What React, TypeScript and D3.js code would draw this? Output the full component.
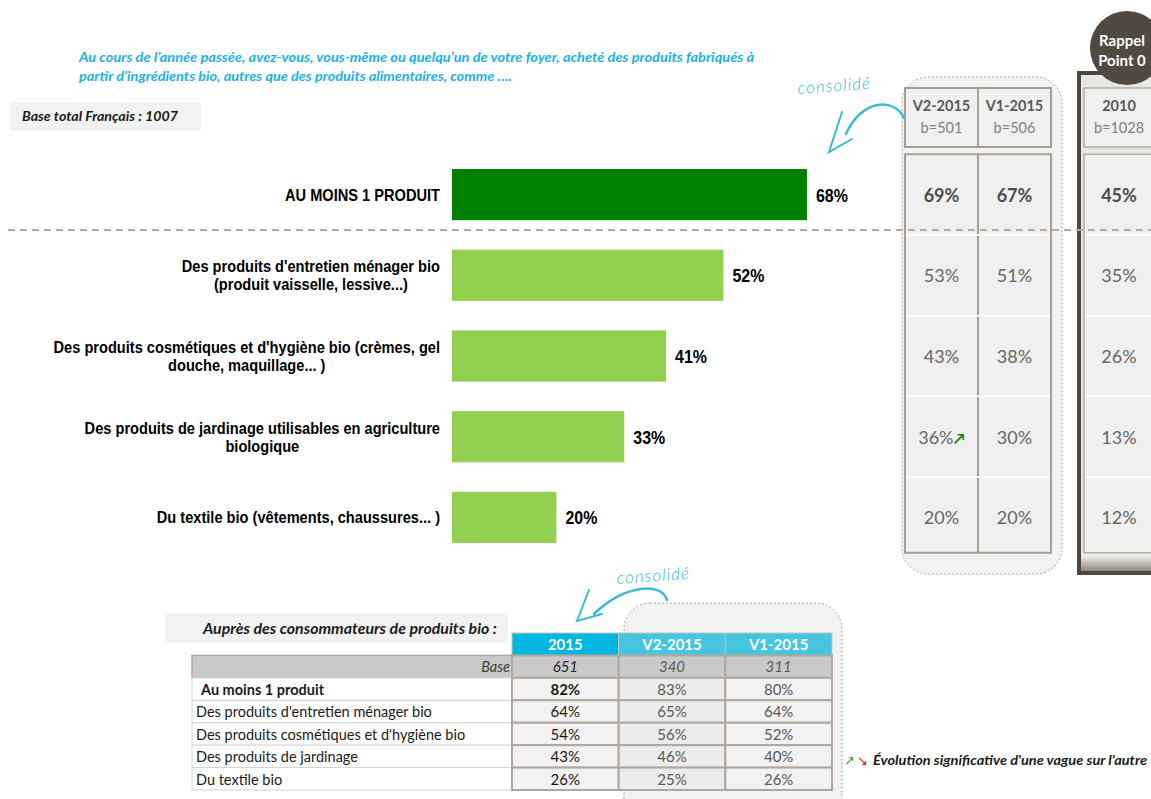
import { useEffect, useRef } from 'react';
import * as d3 from 'd3';

// Question / base
const questionLines = [
  "Au cours de l’année passée, avez-vous,  vous-même ou quelqu’un de votre foyer, acheté des produits fabriqués à",
  "partir d’ingrédients bio, autres que des produits alimentaires, comme ….",
];
const baseLabel = 'Base total Français : 1007';

// Main bar chart
const categoryKeys = ['total', 'entretien', 'cosmetique', 'jardinage', 'textile'];
const categoryLines = [
  ['AU MOINS 1 PRODUIT'],
  ["Des produits d'entretien ménager bio", '(produit vaisselle, lessive...)'],
  ["Des produits cosmétiques et d'hygiène bio (crèmes, gel", 'douche, maquillage... )'],
  ['Des produits de jardinage utilisables en agriculture', 'biologique'],
  ['Du textile bio (vêtements, chaussures... )'],
];
const values2015 = [68, 52, 41, 33, 20];

// Waves (right panel)
const waveKeys = ['V2', 'V1'];
const waveHeaders = ['V2-2015', 'V1-2015'];
const waveBases = ['b=501', 'b=506'];
const valuesV2 = [69, 53, 43, 36, 20];
const valuesV1 = [67, 51, 38, 30, 20];
const significantV2 = [false, false, false, true, false];
const rappelHeader = '2010';
const rappelBase = 'b=1028';
const values2010 = [45, 35, 26, 13, 12];

// Bottom table
const tableTitle = 'Auprès des consommateurs de produits bio :';
const tableColumns = ['2015', 'V2-2015', 'V1-2015'];
const tableBases = ['651', '340', '311'];
const tableLabels = [
  'Au moins 1 produit',
  "Des produits d'entretien ménager bio",
  "Des produits cosmétiques et d'hygiène bio",
  'Des produits de jardinage',
  'Du textile bio',
];
const table2015 = [82, 64, 54, 43, 26];
const tableV2 = [83, 65, 56, 46, 25];
const tableV1 = [80, 64, 52, 40, 26];

const legendText = "Évolution significative d'une vague sur l'autre";

const W = 1151;
const H = 799;
const calibri = "Lato, 'Open Sans', sans-serif";
const narrow = "'Liberation Sans', Arial, sans-serif";
const hand = "Lato, 'DejaVu Sans', sans-serif";
const squeeze = 0.84; // horizontal condensing to mimic Arial Narrow
const labelSqueeze = 0.885;

export default function App() {
  const svgRef = useRef<SVGSVGElement>(null);

  useEffect(() => {
    const svg = d3.select(svgRef.current);
    svg.selectAll('*').remove();
    svg.attr('width', W).attr('height', H);

    const defs = svg.append('defs');
    const grad = defs
      .append('linearGradient')
      .attr('id', 'rappelFoot')
      .attr('x1', 0)
      .attr('y1', 0)
      .attr('x2', 0)
      .attr('y2', 1);
    grad.append('stop').attr('offset', '0%').attr('stop-color', '#f4f3f1');
    grad.append('stop').attr('offset', '100%').attr('stop-color', '#8f877d');

    // Question
    questionLines.forEach((line, i) => {
      svg
        .append('text')
        .attr('x', 79)
        .attr('y', 62 + i * 19)
        .attr('fill', '#1cb1e4')
        .attr('textLength', i === 0 ? 675 : 433)
        .attr('lengthAdjust', 'spacingAndGlyphs')
        .style('font-family', calibri)
        .style('font-style', 'italic')
        .style('font-weight', 'bold')
        .style('font-size', '13px')
        .text(line);
    });

    svg.append('rect').attr('x', 10).attr('y', 102).attr('width', 191).attr('height', 29).attr('fill', '#f2f2f2');
    svg
      .append('text')
      .attr('x', 22)
      .attr('y', 121)
      .attr('textLength', 156)
      .attr('lengthAdjust', 'spacingAndGlyphs')
      .style('font-family', calibri)
      .style('font-style', 'italic')
      .style('font-weight', 'bold')
      .style('font-size', '12.5px')
      .attr('fill', '#1a1a1a')
      .text(baseLabel);

    // Scales
    const x = d3.scaleLinear().domain([0, 100]).range([452, 974]);
    const y = d3
      .scaleBand()
      .domain(categoryKeys)
      .range([154.25, 557.75])
      .paddingInner(0.366)
      .paddingOuter(0.183);
    const bw = y.bandwidth();
    const cy = (i: number) => (y(categoryKeys[i]) as number) + bw / 2;
    const step = y.step();

    // Bars
    svg
      .append('g')
      .selectAll('rect')
      .data(values2015)
      .enter()
      .append('rect')
      .attr('x', x(0))
      .attr('y', (d, i) => y(categoryKeys[i]) as number)
      .attr('width', (d) => x(d) - x(0))
      .attr('height', bw)
      .attr('fill', (d, i) => (i === 0 ? '#008000' : '#92d050'));

    // Value labels (condensed)
    values2015.forEach((d, i) => {
      svg
        .append('g')
        .attr('transform', `translate(${x(d) + 9},${cy(i) + 7}) scale(${squeeze},1)`)
        .append('text')
        .style('font-family', narrow)
        .style('font-weight', 'bold')
        .style('font-size', '19px')
        .attr('fill', '#000')
        .text(`${d}%`);
    });

    // Category labels: centred block, right edge at 440 (condensed)
    categoryLines.forEach((lines, i) => {
      const g = svg.append('g').attr('transform', `translate(440,0) scale(${labelSqueeze},1)`);
      const t = g
        .append('text')
        .attr('text-anchor', 'middle')
        .style('font-family', narrow)
        .style('font-weight', 'bold')
        .style('font-size', '16.5px')
        .attr('fill', '#000');
      const spans = lines.map((l, j) =>
        t
          .append('tspan')
          .attr('y', cy(i) + 6 + (lines.length === 1 ? 0 : j === 0 ? -9 : 9))
          .text(l)
      );
      const maxW = d3.max(spans, (s) => (s.node() as SVGTSpanElement).getComputedTextLength()) || 0;
      spans.forEach((s) => s.attr('x', -maxW / 2));
    });

    // Right panel – consolidated waves
    svg
      .append('rect')
      .attr('x', 902)
      .attr('y', 77)
      .attr('width', 160)
      .attr('height', 497)
      .attr('rx', 26)
      .attr('fill', '#f2f2f2')
      .attr('stroke', '#a6a6a6')
      .attr('stroke-dasharray', '2,2');

    const colX = d3.scaleBand().domain(waveKeys).range([905, 1051]);
    const bodyTop = cy(0) - step / 2;
    const bodyBottom = cy(categoryKeys.length - 1) + step / 2 - 5;
    const cellStroke = '#a89f94';

    waveKeys.forEach((k, j) => {
      const cx = (colX(k) as number) + colX.bandwidth() / 2;
      svg
        .append('rect')
        .attr('x', colX(k) as number)
        .attr('y', 88)
        .attr('width', colX.bandwidth())
        .attr('height', 59)
        .attr('fill', '#f0f0f0')
        .attr('stroke', cellStroke)
        .attr('stroke-width', 2);
      svg
        .append('text')
        .attr('x', cx)
        .attr('y', 111)
        .attr('text-anchor', 'middle')
        .style('font-family', calibri)
        .style('font-weight', 'bold')
        .style('font-size', '14.5px')
        .attr('fill', '#595959')
        .text(waveHeaders[j]);
      svg
        .append('text')
        .attr('x', cx)
        .attr('y', 133)
        .attr('text-anchor', 'middle')
        .style('font-family', calibri)
        .style('font-size', '14.5px')
        .attr('fill', '#7f7f7f')
        .text(waveBases[j]);
    });

    svg
      .append('rect')
      .attr('x', 905)
      .attr('y', bodyTop)
      .attr('width', 146)
      .attr('height', bodyBottom - bodyTop)
      .attr('fill', '#f0f0f0')
      .attr('stroke', cellStroke)
      .attr('stroke-width', 2);
    svg
      .append('line')
      .attr('x1', 978)
      .attr('x2', 978)
      .attr('y1', bodyTop)
      .attr('y2', bodyBottom)
      .attr('stroke', cellStroke)
      .attr('stroke-width', 2);

    const waveValues = [valuesV2, valuesV1];
    categoryKeys.forEach((k, i) => {
      if (i > 0) {
        svg
          .append('line')
          .attr('x1', 906)
          .attr('x2', 1050)
          .attr('y1', cy(i) - step / 2)
          .attr('y2', cy(i) - step / 2)
          .attr('stroke', '#ffffff')
          .attr('stroke-width', 2);
      }
      waveKeys.forEach((w, j) => {
        const cx = (colX(w) as number) + colX.bandwidth() / 2;
        const t = svg
          .append('text')
          .attr('x', cx)
          .attr('y', cy(i) + 7)
          .attr('text-anchor', 'middle')
          .style('font-family', calibri)
          .style('font-weight', i === 0 ? 'bold' : 'normal')
          .style('font-size', '18px')
          .attr('fill', i === 0 ? '#4d4d4d' : '#666666');
        t.append('tspan').text(`${waveValues[j][i]}%`);
        if (j === 0 && significantV2[i]) {
          t.append('tspan').attr('fill', '#008a00').style('font-weight', 'bold').style('font-size', '15px').text('↗');
        }
      });
    });

    // Rappel point 0
    svg
      .append('rect')
      .attr('x', 1079)
      .attr('y', 73)
      .attr('width', 90)
      .attr('height', 500)
      .attr('fill', '#e9e7e4')
      .attr('stroke', '#4f473d')
      .attr('stroke-width', 4);
    svg
      .append('rect')
      .attr('x', 1081)
      .attr('y', bodyBottom + 2)
      .attr('width', 88)
      .attr('height', 571 - bodyBottom - 2)
      .attr('fill', 'url(#rappelFoot)');
    svg
      .append('rect')
      .attr('x', 1084)
      .attr('y', 88)
      .attr('width', 90)
      .attr('height', 59)
      .attr('fill', '#f0f0f0')
      .attr('stroke', '#b3aca3')
      .attr('stroke-width', 1.5);
    svg
      .append('rect')
      .attr('x', 1084)
      .attr('y', bodyTop)
      .attr('width', 90)
      .attr('height', bodyBottom - bodyTop)
      .attr('fill', '#f0f0f0')
      .attr('stroke', '#b3aca3')
      .attr('stroke-width', 1.5);
    svg
      .append('text')
      .attr('x', 1119)
      .attr('y', 111)
      .attr('text-anchor', 'middle')
      .style('font-family', calibri)
      .style('font-weight', 'bold')
      .style('font-size', '14.5px')
      .attr('fill', '#595959')
      .text(rappelHeader);
    svg
      .append('text')
      .attr('x', 1119)
      .attr('y', 133)
      .attr('text-anchor', 'middle')
      .style('font-family', calibri)
      .style('font-size', '14.5px')
      .attr('fill', '#7f7f7f')
      .text(rappelBase);
    values2010.forEach((v, i) => {
      if (i > 0) {
        svg
          .append('line')
          .attr('x1', 1085)
          .attr('x2', 1151)
          .attr('y1', cy(i) - step / 2)
          .attr('y2', cy(i) - step / 2)
          .attr('stroke', '#ffffff')
          .attr('stroke-width', 2);
      }
      svg
        .append('text')
        .attr('x', 1119)
        .attr('y', cy(i) + 7)
        .attr('text-anchor', 'middle')
        .style('font-family', calibri)
        .style('font-weight', i === 0 ? 'bold' : 'normal')
        .style('font-size', '18px')
        .attr('fill', i === 0 ? '#4d4d4d' : '#666666')
        .text(`${v}%`);
    });
    svg.append('circle').attr('cx', 1127).attr('cy', 48).attr('r', 37).attr('fill', '#514940');
    ['Rappel', 'Point 0'].forEach((l, i) => {
      svg
        .append('text')
        .attr('x', 1122)
        .attr('y', 46 + i * 20)
        .attr('text-anchor', 'middle')
        .style('font-family', calibri)
        .style('font-weight', 'bold')
        .style('font-size', '15px')
        .attr('fill', '#ffffff')
        .text(l);
    });

    // Dashed separator
    svg
      .append('line')
      .attr('x1', 8)
      .attr('x2', W)
      .attr('y1', 230)
      .attr('y2', 230)
      .attr('stroke', '#b3aa9f')
      .attr('stroke-width', 2)
      .attr('stroke-dasharray', '7,5');

    // "consolidé" annotations
    const annot = (tx: number, ty: number, curve: string, head: string) => {
      svg
        .append('text')
        .attr('x', tx)
        .attr('y', ty)
        .attr('transform', `rotate(-4,${tx},${ty})`)
        .style('font-family', hand)
        .style('font-style', 'italic')
        .style('font-weight', 300)
        .style('font-size', '17px')
        .style('letter-spacing', '1px')
        .attr('fill', '#2ab8d2')
        .text('consolidé');
      svg.append('path').attr('d', curve).attr('fill', 'none').attr('stroke', '#3bbccf').attr('stroke-width', 2.5).attr('stroke-linecap', 'round');
      svg.append('path').attr('d', head).attr('fill', 'none').attr('stroke', '#3bbccf').attr('stroke-width', 2).attr('stroke-linecap', 'round');
    };
    annot(798, 94, 'M904,118 C895,98 862,98 846,134', 'M842,112 L829,152 L852,139');
    annot(617, 584, 'M667,600 C662,582 625,584 594,614', 'M589,590 L577,621 L602,614');

    // Bottom table
    svg.append('rect').attr('x', 165).attr('y', 613).attr('width', 343).attr('height', 30).attr('fill', '#f2f2f2');
    svg
      .append('text')
      .attr('x', 203)
      .attr('y', 634)
      .attr('textLength', 294)
      .attr('lengthAdjust', 'spacingAndGlyphs')
      .style('font-family', calibri)
      .style('font-style', 'italic')
      .style('font-weight', 'bold')
      .style('font-size', '14.5px')
      .attr('fill', '#1a1a1a')
      .text(tableTitle);

    svg
      .append('rect')
      .attr('x', 624)
      .attr('y', 603)
      .attr('width', 218)
      .attr('height', 230)
      .attr('rx', 26)
      .attr('fill', '#f2f2f2')
      .attr('stroke', '#a6a6a6')
      .attr('stroke-dasharray', '2,2');

    const tx = d3.scaleBand().domain(tableColumns).range([512, 832]);
    const rowKeys = ['header', 'base', ...tableLabels];
    const ty = d3.scaleBand().domain(rowKeys).range([633, 790]);
    const rh = ty.bandwidth();
    const tcx = (c: string) => (tx(c) as number) + tx.bandwidth() / 2;
    const tStroke = '#b0a89e';

    tableColumns.forEach((c, j) => {
      svg
        .append('rect')
        .attr('x', tx(c) as number)
        .attr('y', ty('header') as number)
        .attr('width', tx.bandwidth())
        .attr('height', rh)
        .attr('fill', j === 0 ? '#00b6e3' : '#46c5e0')
        .attr('stroke', '#c9c3bb')
        .attr('stroke-width', 1);
      svg
        .append('text')
        .attr('x', tcx(c))
        .attr('y', (ty('header') as number) + 17)
        .attr('text-anchor', 'middle')
        .style('font-family', calibri)
        .style('font-weight', 'bold')
        .style('font-size', '15px')
        .attr('fill', '#ffffff')
        .text(c);
    });

    // base row
    const baseY = ty('base') as number;
    svg
      .append('rect')
      .attr('x', 192)
      .attr('y', baseY)
      .attr('width', 320)
      .attr('height', rh)
      .attr('fill', '#c9c9c9')
      .attr('stroke', '#a8a8a8')
      .attr('stroke-width', 1.5);
    svg
      .append('text')
      .attr('x', 510)
      .attr('y', baseY + 17)
      .attr('text-anchor', 'end')
      .style('font-family', calibri)
      .style('font-style', 'italic')
      .style('font-size', '14.5px')
      .attr('fill', '#404040')
      .text('Base');
    tableColumns.forEach((c, j) => {
      svg
        .append('rect')
        .attr('x', tx(c) as number)
        .attr('y', baseY)
        .attr('width', tx.bandwidth())
        .attr('height', rh)
        .attr('fill', '#c9c9c9')
        .attr('stroke', tStroke)
        .attr('stroke-width', 2);
      svg
        .append('text')
        .attr('x', tcx(c))
        .attr('y', baseY + 17)
        .attr('text-anchor', 'middle')
        .style('font-family', calibri)
        .style('font-style', 'italic')
        .style('font-size', '15px')
        .attr('fill', j === 0 ? '#262626' : '#595959')
        .text(tableBases[j]);
    });

    const tableValues = [table2015, tableV2, tableV1];
    tableLabels.forEach((label, i) => {
      const ry = ty(label) as number;
      svg
        .append('rect')
        .attr('x', 192)
        .attr('y', ry)
        .attr('width', 320)
        .attr('height', rh)
        .attr('fill', '#ffffff')
        .attr('stroke', '#d4d4d4')
        .attr('stroke-width', 1);
      svg
        .append('text')
        .attr('x', i === 0 ? 201 : 196)
        .attr('y', ry + 17)
        .style('font-family', calibri)
        .style('font-weight', i === 0 ? 'bold' : 'normal')
        .style('font-size', '14.5px')
        .attr('fill', '#1a1a1a')
        .text(label);
      tableColumns.forEach((c, j) => {
        svg
          .append('rect')
          .attr('x', tx(c) as number)
          .attr('y', ry)
          .attr('width', tx.bandwidth())
          .attr('height', rh)
          .attr('fill', j === 1 ? '#ececec' : '#f2f2f2')
          .attr('stroke', tStroke)
          .attr('stroke-width', 2);
        svg
          .append('text')
          .attr('x', tcx(c))
          .attr('y', ry + 17)
          .attr('text-anchor', 'middle')
          .style('font-family', calibri)
          .style('font-weight', i === 0 && j === 0 ? 'bold' : 'normal')
          .style('font-size', '15px')
          .attr('fill', j === 0 ? '#1a1a1a' : '#595959')
          .text(`${tableValues[j][i]}%`);
      });
    });

    // Legend
    svg
      .append('text')
      .attr('x', 844)
      .attr('y', 765)
      .style('font-family', "'DejaVu Sans', sans-serif")
      .style('font-size', '13px')
      .attr('fill', '#1f9e1f')
      .text('↗');
    svg
      .append('text')
      .attr('x', 857)
      .attr('y', 765)
      .style('font-family', "'DejaVu Sans', sans-serif")
      .style('font-size', '13px')
      .attr('fill', '#e02020')
      .text('↘');
    svg
      .append('text')
      .attr('x', 873)
      .attr('y', 765)
      .attr('textLength', 274)
      .attr('lengthAdjust', 'spacingAndGlyphs')
      .style('font-family', calibri)
      .style('font-style', 'italic')
      .style('font-weight', 'bold')
      .style('font-size', '13.5px')
      .attr('fill', '#1a1a1a')
      .text(legendText);
  }, []);

  return (
    <div style={{ position: 'absolute', left: 0, top: 0, width: W, height: H, overflow: 'hidden', background: '#fff' }}>
      <svg ref={svgRef} style={{ display: 'block' }} />
    </div>
  );
}
